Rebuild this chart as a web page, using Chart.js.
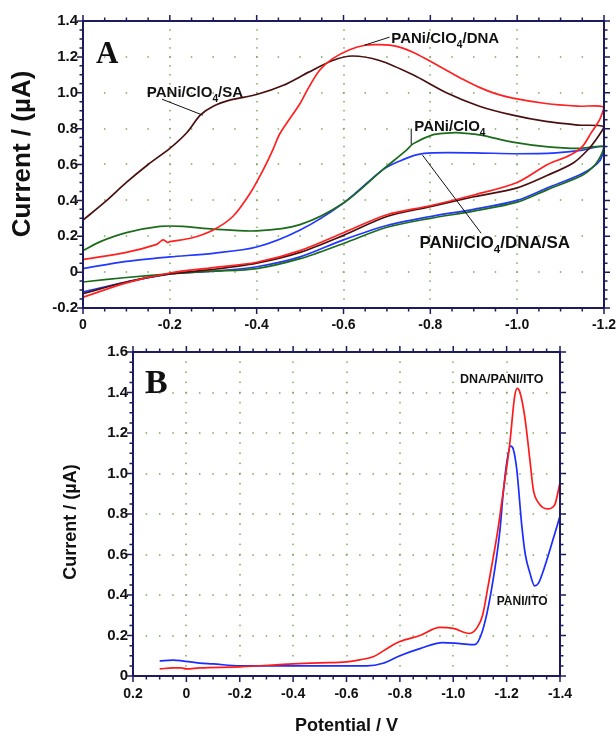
<!DOCTYPE html>
<html>
<head>
<meta charset="utf-8">
<script src="https://cdn.jsdelivr.net/npm/chart.js@4.4.0/dist/chart.umd.min.js"></script>
<style>
  body { margin: 0; background: #fff; }
  #wrap { position: relative; width: 616px; height: 737px; }
  canvas { position: absolute; left: 0; }
</style>
</head>
<body>
<div id="wrap">
  <canvas id="cvA" width="616" height="335" style="top:0"></canvas>
  <canvas id="cvB" width="616" height="402" style="top:335px"></canvas>
</div>
<script>
// ---- Panel A: cyclic voltammograms (forward scan 0 -> -1.2 V, then back) ----
const dnaPotential = [0, -0.1, -0.17, -0.178, -0.185, -0.195, -0.2, -0.25, -0.3, -0.345, -0.385, -0.415, -0.437, -0.453, -0.5, -0.52, -0.545, -0.575, -0.614, -0.65, -0.683, -0.72, -0.76, -0.8, -0.837, -0.875, -0.913, -0.95, -0.99, -1.066, -1.14, -1.2,
  -1.19, -1.17, -1.15, -1.12, -1.07, -1.0, -0.9, -0.8, -0.7, -0.6, -0.5, -0.4, -0.3, -0.2, -0.1, 0];
const dnaCurrent = [0.07, 0.11, 0.155, 0.17, 0.18, 0.165, 0.17, 0.19, 0.235, 0.31, 0.44, 0.57, 0.68, 0.77, 0.94, 1.03, 1.125, 1.19, 1.24, 1.265, 1.268, 1.26, 1.226, 1.175, 1.126, 1.075, 1.03, 0.995, 0.97, 0.94, 0.925, 0.92,
  0.85, 0.775, 0.70, 0.65, 0.60, 0.50, 0.43, 0.37, 0.32, 0.22, 0.12, 0.055, 0.025, -0.005, -0.06, -0.14];

const saPotential = [0, -0.05, -0.1, -0.15, -0.2, -0.24, -0.27, -0.3, -0.34, -0.4, -0.46, -0.52, -0.575, -0.62, -0.683, -0.76, -0.837, -0.913, -0.99, -1.066, -1.14, -1.2,
  -1.185, -1.166, -1.13, -1.07, -1.0, -0.9, -0.8, -0.7, -0.6, -0.5, -0.4, -0.3, -0.2, -0.1, 0];
const saCurrent = [0.29, 0.39, 0.50, 0.60, 0.69, 0.78, 0.875, 0.925, 0.96, 0.99, 1.04, 1.115, 1.18, 1.205, 1.18, 1.10, 1.0, 0.925, 0.875, 0.84, 0.82, 0.81,
  0.75, 0.69, 0.61, 0.54, 0.47, 0.42, 0.365, 0.31, 0.205, 0.11, 0.05, 0.015, -0.01, -0.055, -0.12];

const clo4Potential = [0, -0.04, -0.1, -0.177, -0.23, -0.3, -0.4, -0.5, -0.6, -0.69, -0.745, -0.76, -0.805, -0.837, -0.86, -0.913, -0.99, -1.066, -1.14, -1.2,
  -1.195, -1.18, -1.15, -1.07, -1.0, -0.9, -0.8, -0.7, -0.6, -0.5, -0.4, -0.3, -0.2, -0.1, 0];
const clo4Current = [0.12, 0.17, 0.22, 0.255, 0.255, 0.24, 0.23, 0.265, 0.385, 0.57, 0.68, 0.715, 0.765, 0.775, 0.778, 0.765, 0.725, 0.70, 0.69, 0.70,
  0.66, 0.60, 0.54, 0.46, 0.39, 0.34, 0.30, 0.25, 0.16, 0.075, 0.02, 0.005, -0.01, -0.03, -0.055];

const dnaSaPotential = [0, -0.1, -0.2, -0.3, -0.4, -0.5, -0.6, -0.69, -0.73, -0.77, -0.805, -0.9, -1.0, -1.09, -1.15, -1.2,
  -1.19, -1.15, -1.07, -1.0, -0.9, -0.8, -0.7, -0.6, -0.5, -0.4, -0.3, -0.2, -0.1, 0];
const dnaSaCurrent = [0.02, 0.06, 0.085, 0.105, 0.14, 0.235, 0.385, 0.57, 0.62, 0.655, 0.665, 0.665, 0.66, 0.665, 0.68, 0.70,
  0.62, 0.55, 0.47, 0.40, 0.35, 0.31, 0.26, 0.18, 0.085, 0.03, 0.005, -0.01, -0.055, -0.11];

const aPotentialTicks = [0, -0.2, -0.4, -0.6, -0.8, -1.0, -1.2];
const aCurrentTicks = [-0.2, 0, 0.2, 0.4, 0.6, 0.8, 1.0, 1.2, 1.4];

// ---- Panel B: DPV on ITO ----
const dnaItoPotential = [0.1, 0.05, 0.02, 0.0, -0.05, -0.2, -0.4, -0.5, -0.6, -0.65, -0.7, -0.763, -0.8, -0.875, -0.95, -1.0, -1.06, -1.09, -1.11, -1.13, -1.167, -1.186, -1.212, -1.23, -1.24, -1.25, -1.268, -1.287, -1.3, -1.317, -1.354, -1.38, -1.4];
const dnaItoCurrent = [0.035, 0.04, 0.04, 0.035, 0.04, 0.045, 0.06, 0.065, 0.07, 0.08, 0.095, 0.145, 0.17, 0.20, 0.24, 0.235, 0.21, 0.24, 0.30, 0.44, 0.72, 0.90, 1.15, 1.38, 1.42, 1.40, 1.28, 1.07, 0.92, 0.86, 0.825, 0.845, 0.955];

const paniItoPotential = [0.1, 0.05, 0.017, -0.05, -0.1, -0.2, -0.4, -0.5, -0.676, -0.737, -0.8, -0.875, -0.96, -1.025, -1.08, -1.11, -1.145, -1.175, -1.186, -1.2, -1.215, -1.225, -1.238, -1.257, -1.27, -1.287, -1.305, -1.32, -1.335, -1.373, -1.4];
const paniItoCurrent = [0.075, 0.078, 0.075, 0.064, 0.06, 0.05, 0.05, 0.05, 0.05, 0.063, 0.10, 0.135, 0.165, 0.16, 0.155, 0.225, 0.44, 0.72, 0.885, 1.05, 1.135, 1.12, 1.02, 0.74, 0.60, 0.51, 0.445, 0.46, 0.51, 0.67, 0.79];

const bPotentialTicks = [0.2, 0, -0.2, -0.4, -0.6, -0.8, -1.0, -1.2, -1.4];
const bCurrentTicks = [0, 0.2, 0.4, 0.6, 0.8, 1.0, 1.2, 1.4, 1.6];

const FONT = '"Liberation Sans", Arial, sans-serif';
Chart.defaults.font.family = FONT;
Chart.defaults.color = '#111';

const pts = (xs, ys) => xs.map((x, i) => ({ x, y: ys[i] }));
const fmt = v => Math.abs(v) < 1e-9 ? '0' : v.toFixed(1);
const useTicks = arr => s => { s.ticks = arr.map(value => ({ value })); };

function steps(min, max, step) {
  const out = [];
  const n = Math.round((max - min) / step);
  for (let i = 0; i <= n; i++) out.push(min + i * step);
  return out;
}

function drawRich(ctx, parts, x, y, size) {
  let cx = x;
  parts.forEach(([t, sub]) => {
    const s = sub ? size * 0.68 : size;
    ctx.font = `bold ${s}px ${FONT}`;
    ctx.fillText(t, cx, y + (sub ? size * 0.3 : 0));
    cx += ctx.measureText(t).width;
  });
}

// frame, minor ticks, dotted grid, labels
const cvPlugin = {
  id: 'cv',
  beforeDatasetsDraw(chart, args, o) {
    const { ctx, scales: { x, y } } = chart;
    const xm = steps(x.min, x.max, 0.05), ym = steps(y.min, y.max, 0.05);
    const inner = (vals, s) => vals.filter(v => Math.abs(v - s.min) > 1e-6 && Math.abs(v - s.max) > 1e-6);
    ctx.save();
    ctx.fillStyle = '#7fa65a';
    inner(o.xTicks, x).forEach(v => {
      const px = Math.round(x.getPixelForValue(v));
      ym.forEach(w => ctx.fillRect(px - 0.75, y.getPixelForValue(w) - 0.75, 1.5, 1.5));
    });
    inner(o.yTicks, y).forEach(w => {
      const py = Math.round(y.getPixelForValue(w));
      xm.forEach(v => ctx.fillRect(x.getPixelForValue(v) - 0.75, py - 0.75, 1.5, 1.5));
    });
    ctx.restore();
  },
  afterDatasetsDraw(chart, args, o) {
    const { ctx, chartArea: a, scales: { x, y } } = chart;
    const isMajor = (v, list) => list.some(t => Math.abs(t - v) < 1e-6);
    ctx.save();
    ctx.strokeStyle = '#1b1b5e';
    ctx.lineWidth = 1.5;
    ctx.beginPath();
    steps(x.min, x.max, 0.05).forEach(v => {
      const px = x.getPixelForValue(v), len = isMajor(v, o.xTicks) ? 6 : 3.5;
      ctx.moveTo(px, a.bottom); ctx.lineTo(px, a.bottom + len);
      ctx.moveTo(px, a.top); ctx.lineTo(px, a.top - len);
    });
    steps(y.min, y.max, 0.05).forEach(v => {
      const py = y.getPixelForValue(v), len = isMajor(v, o.yTicks) ? 6 : 3.5;
      ctx.moveTo(a.left, py); ctx.lineTo(a.left - len, py);
      ctx.moveTo(a.right, py); ctx.lineTo(a.right + len, py);
    });
    ctx.stroke();
    ctx.lineWidth = 2;
    ctx.strokeRect(a.left, a.top, a.right - a.left, a.bottom - a.top);

    // leader lines
    ctx.strokeStyle = '#111';
    ctx.lineWidth = 1;
    ctx.beginPath();
    (o.leaders || []).forEach(([x1, y1, x2, y2]) => {
      ctx.moveTo(x.getPixelForValue(x1), y.getPixelForValue(y1));
      ctx.lineTo(x.getPixelForValue(x2), y.getPixelForValue(y2));
    });
    ctx.stroke();

    ctx.fillStyle = '#111';
    ctx.textAlign = 'left';
    ctx.textBaseline = 'alphabetic';
    (o.labels || []).forEach(l => drawRich(ctx, l.parts, x.getPixelForValue(l.x), y.getPixelForValue(l.y), l.size));

    // panel letter
    const p = o.panel;
    ctx.font = `bold ${p.size}px "Liberation Serif", "Times New Roman", serif`;
    ctx.fillText(p.text, x.getPixelForValue(p.x), y.getPixelForValue(p.y));

    // y-axis title
    const t = o.yTitle;
    ctx.translate(t.px, t.py);
    ctx.rotate(-Math.PI / 2);
    ctx.textAlign = 'center';
    ctx.textBaseline = 'middle';
    ctx.font = `bold ${t.size}px ${FONT}`;
    ctx.fillText(t.text, 0, 0);
    ctx.restore();
  }
};

function line(label, data, color, tension) {
  return { label, data, borderColor: color, borderWidth: 1.7, pointRadius: 0, showLine: true, fill: false, tension };
}

new Chart(document.getElementById('cvA'), {
  type: 'scatter',
  data: {
    datasets: [
      line('PANi/ClO4/DNA', pts(dnaPotential, dnaCurrent), '#ff2020', 0.3),
      line('PANi/ClO4/SA', pts(saPotential, saCurrent), '#4a1010', 0.3),
      line('PANi/ClO4', pts(clo4Potential, clo4Current), '#1b6b1b', 0.3),
      line('PANi/ClO4/DNA/SA', pts(dnaSaPotential, dnaSaCurrent), '#2038ff', 0.3)
    ]
  },
  options: {
    responsive: false,
    animation: false,
    layout: { padding: { top: 21, right: 12, bottom: 0, left: 0 } },
    plugins: {
      legend: { display: false },
      tooltip: { enabled: false },
      cv: {
        xTicks: aPotentialTicks,
        yTicks: aCurrentTicks,
        leaders: [
          [-0.182, 0.964, -0.276, 0.875],
          [-0.648, 1.265, -0.706, 1.31],
          [-0.756, 0.80, -0.756, 0.71],
          [-0.782, 0.652, -0.917, 0.217]
        ],
        labels: [
          { parts: [['PANi/ClO', 0], ['4', 1], ['/SA', 0]], x: -0.147, y: 0.975, size: 15 },
          { parts: [['PANi/ClO', 0], ['4', 1], ['/DNA', 0]], x: -0.71, y: 1.276, size: 15 },
          { parts: [['PANi/ClO', 0], ['4', 1]], x: -0.763, y: 0.786, size: 15 },
          { parts: [['PANi/ClO', 0], ['4', 1], ['/DNA/SA', 0]], x: -0.775, y: 0.134, size: 17 }
        ],
        panel: { text: 'A', x: -0.03, y: 1.165, size: 31 },
        yTitle: { text: 'Current / (µA)', px: 23, py: 154, size: 26 }
      }
    },
    scales: {
      x: {
        type: 'linear', reverse: true, min: -1.2, max: 0,
        afterBuildTicks: useTicks(aPotentialTicks),
        afterFit: s => { s.height = 27; s.paddingLeft = 0; s.paddingRight = 0; },
        grid: { display: false, drawTicks: false },
        border: { display: false },
        ticks: { padding: 9, autoSkip: false, maxRotation: 0, font: { size: 14, weight: 'bold' }, callback: fmt }
      },
      y: {
        min: -0.2, max: 1.4,
        afterBuildTicks: useTicks(aCurrentTicks),
        afterFit: s => { s.width = 83; },
        grid: { display: false, drawTicks: false },
        border: { display: false },
        ticks: { padding: 5, autoSkip: false, font: { size: 15, weight: 'bold' }, callback: fmt }
      }
    }
  },
  plugins: [cvPlugin]
});

new Chart(document.getElementById('cvB'), {
  type: 'scatter',
  data: {
    datasets: [
      Object.assign(line('DNA/PANI/ITO', pts(dnaItoPotential, dnaItoCurrent), '#ff1a1a', 0), { cubicInterpolationMode: 'monotone' }),
      Object.assign(line('PANI/ITO', pts(paniItoPotential, paniItoCurrent), '#1a2cff', 0), { cubicInterpolationMode: 'monotone' })
    ]
  },
  options: {
    responsive: false,
    animation: false,
    layout: { padding: { top: 17, right: 56, bottom: 0, left: 0 } },
    plugins: {
      legend: { display: false },
      tooltip: { enabled: false },
      cv: {
        xTicks: bPotentialTicks,
        yTicks: bCurrentTicks,
        labels: [
          { parts: [['DNA/PANI/ITO', 0]], x: -1.025, y: 1.447, size: 12.5 },
          { parts: [['PANI/ITO', 0]], x: -1.163, y: 0.35, size: 12 }
        ],
        panel: { text: 'B', x: 0.155, y: 1.40, size: 34 },
        yTitle: { text: 'Current / (µA)', px: 71, py: 522 - 335, size: 18 }
      }
    },
    scales: {
      x: {
        type: 'linear', reverse: true, min: -1.4, max: 0.2,
        afterBuildTicks: useTicks(bPotentialTicks),
        afterFit: s => { s.height = 61; },
        grid: { display: false, drawTicks: false },
        border: { display: false },
        title: { display: true, text: 'Potential / V', font: { size: 18, weight: 'bold' }, padding: { top: 0, bottom: 0 } },
        ticks: { padding: 10, autoSkip: false, maxRotation: 0, font: { size: 14, weight: 'bold' }, callback: fmt }
      },
      y: {
        min: 0, max: 1.6,
        afterBuildTicks: useTicks(bCurrentTicks),
        afterFit: s => { s.width = 133; },
        grid: { display: false, drawTicks: false },
        border: { display: false },
        ticks: { padding: 5, autoSkip: false, font: { size: 15, weight: 'bold' }, callback: fmt }
      }
    }
  },
  plugins: [cvPlugin]
});
</script>
</body>
</html>
